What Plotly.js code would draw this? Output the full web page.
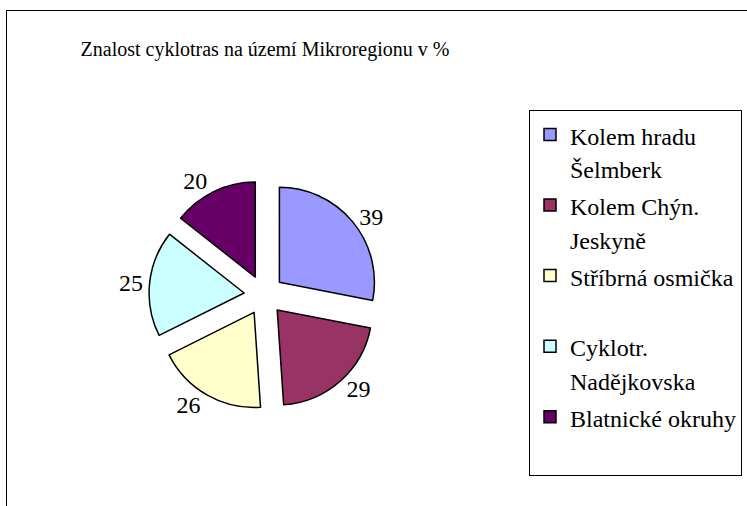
<!DOCTYPE html>
<html>
<head>
<meta charset="utf-8">
<script src="https://cdn.plot.ly/plotly-3.0.1.min.js"></script>
<style>
html,body{margin:0;padding:0;background:#fff;}
#wrap{position:relative;width:747px;height:506px;overflow:hidden;}
#chart{width:747px;height:506px;}
#frame{position:absolute;left:6px;top:10px;width:800px;height:600px;border-left:1.5px solid #000;border-top:1.5px solid #000;pointer-events:none;}
#tick{position:absolute;left:300px;top:490px;font:2px monospace;color:#fff;}
</style>
</head>
<body>
<div id="wrap">
<div id="chart"></div>
<div id="frame"></div>
<div id="tick"></div>
</div>
<script>
const chartTitle = "Znalost cyklotras na území Mikroregionu v %";
const categories = ["Kolem hradu<br>Šelmberk", "Kolem Chýn.<br>Jeskyně", "Stříbrná osmička", "Cyklotr.<br>Nadějkovska", "Blatnické okruhy"];
const values = [39, 29, 26, 25, 20];
const colors = ["#9999FF", "#993366", "#FFFFCC", "#CCFFFF", "#660066"];

const W = 747, H = 506;
const FONT = "Liberation Serif";

// legend entries: every entry occupies two lines, displayed at 24px
const legendLabels = categories.map(c => {
  const parts = c.split("<br>");
  while (parts.length < 2) parts.push(" ");
  return parts.map(p => '<span style="font-size:24px">' + p + '</span>').join("<br>");
});

const cx = 264, cy = 295, half = 115;

const trace = {
  type: "pie",
  labels: legendLabels,
  values: values,
  sort: false,
  direction: "clockwise",
  rotation: 0,
  pull: values.map(() => 0.21),
  marker: {colors: colors, line: {color: "#000", width: 1.5}},
  textinfo: "value",
  texttemplate: "%{value}",
  textposition: "outside",
  outsidetextfont: {family: FONT, size: 24, color: "#000"},
  automargin: false,
  domain: {
    x: [(cx - half) / W, (cx + half) / W],
    y: [(H - cy - half) / H, (H - cy + half) / H]
  }
};

const layout = {
  width: W, height: H,
  margin: {l: 0, r: 0, t: 0, b: 0, autoexpand: false},
  font: {family: FONT, color: "#000"},
  title: {
    text: chartTitle,
    font: {family: FONT, size: 20, color: "#000"},
    xref: "container", yref: "container",
    x: 265 / W, xanchor: "center",
    y: 1 - 49 / H, yanchor: "middle"
  },
  legend: {
    x: 529 / W, xanchor: "left",
    y: 1 - 110 / H, yanchor: "top",
    valign: "top",
    font: {family: FONT, size: 26, color: "#000"},
    bordercolor: "#000", borderwidth: 1
  }
};

const config = {displayModeBar: false, staticPlot: true};

Plotly.newPlot("chart", [trace], layout, config).then(() => {
  const out = [];
  document.querySelectorAll(".legendtext, .slicetext, .gtitle").forEach(e => out.push(getComputedStyle(e).fontFamily));
  document.getElementById("tick").textContent = out.length ? "." : "";
  const loads = ["20px", "24px", "26px"].map(s => document.fonts.load(s + ' "Liberation Serif"', "Kolem 39"));
  Promise.all(loads).then(() => document.fonts.ready).then(() => {
    Plotly.react("chart", [trace], layout, config);
  });
});
</script>
</body>
</html>
